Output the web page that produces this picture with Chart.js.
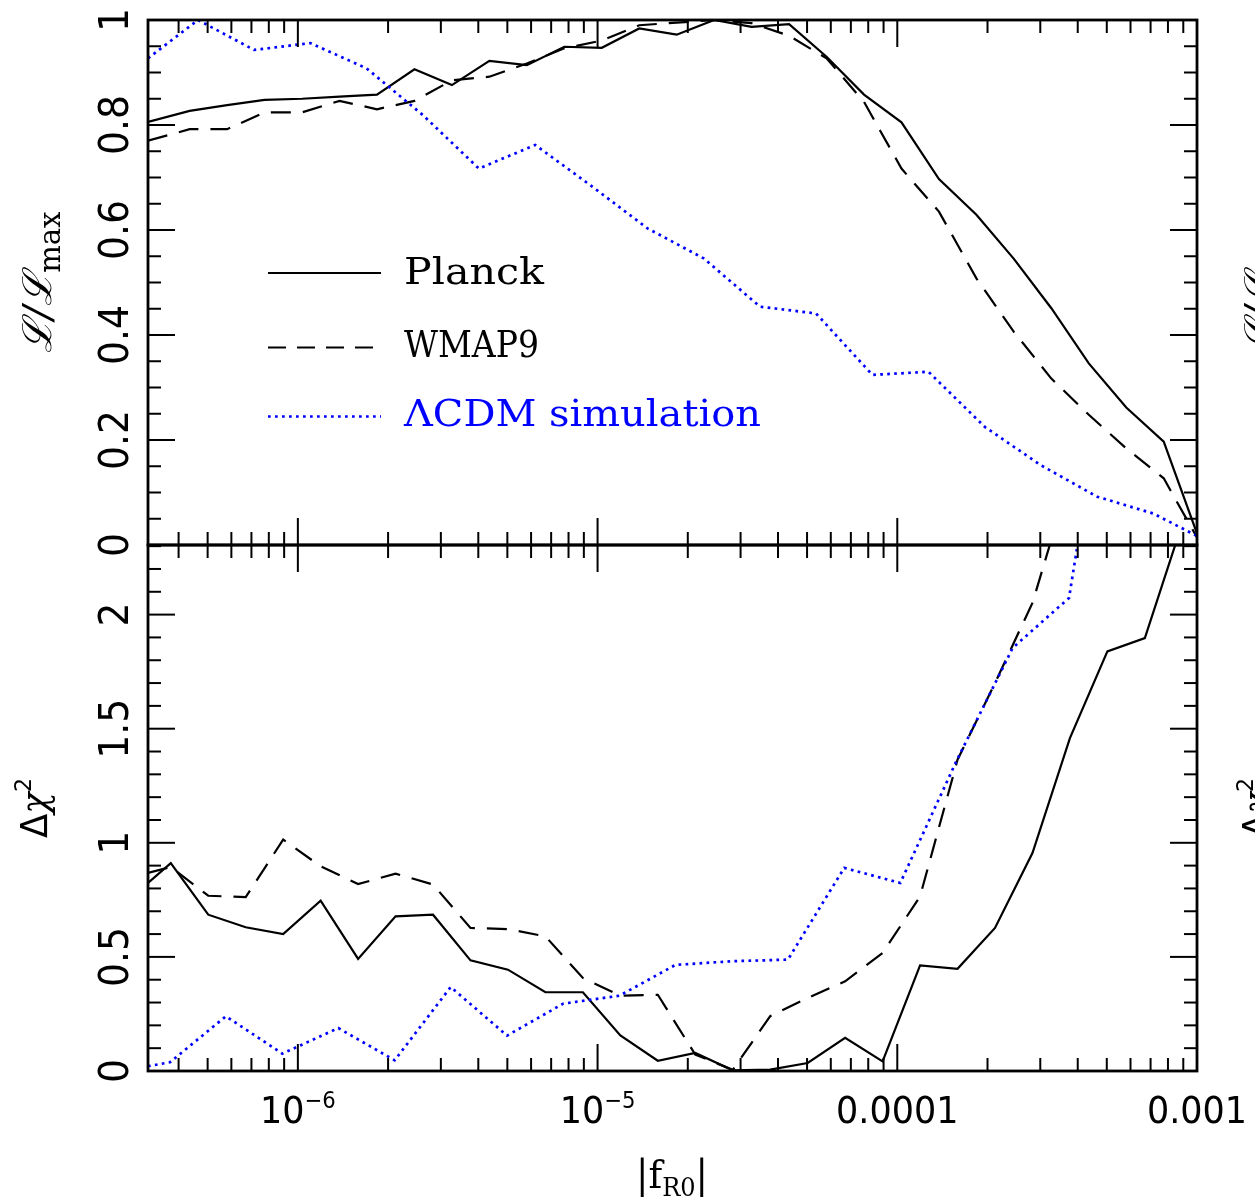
<!DOCTYPE html>
<html><head><meta charset="utf-8">
<script src="https://cdn.jsdelivr.net/npm/chart.js@4.4.1/dist/chart.umd.min.js"></script>
<style>
html,body{margin:0;padding:0;background:#fff;width:1255px;height:1201px;overflow:hidden;}
canvas{position:absolute;left:0;top:0;}
</style></head><body>
<canvas id="cBot" width="1255" height="1201"></canvas>
<canvas id="cTop" width="1255" height="1201"></canvas>
<script>
// ---------------- data (x given as log10 |f_R0|) ----------------
const xRangeLog = [-6.5, -3];

const likeLogF = [-6.5, -6.361, -6.236, -6.111, -5.986, -5.861, -5.736, -5.611, -5.486, -5.361,
  -5.236, -5.111, -4.986, -4.861, -4.736, -4.611, -4.486, -4.361, -4.236, -4.111,
  -3.986, -3.861, -3.736, -3.611, -3.486, -3.361, -3.236, -3.111, -2.986];
const likePlanck = [0.806, 0.827, 0.838, 0.848, 0.850, 0.854, 0.858, 0.906, 0.876, 0.922,
  0.914, 0.949, 0.947, 0.984, 0.972, 1.000, 0.987, 0.992, 0.930, 0.858,
  0.805, 0.697, 0.629, 0.545, 0.451, 0.346, 0.262, 0.197, 0.000];
const likeWMAP9 = [0.770, 0.792, 0.792, 0.824, 0.824, 0.846, 0.830, 0.846, 0.885, 0.892,
  0.917, 0.946, 0.961, 0.990, 0.995, 1.000, 0.994, 0.970, 0.927, 0.844,
  0.717, 0.635, 0.508, 0.406, 0.317, 0.248, 0.184, 0.127, 0.000];

const simLikeLogF = [-6.5, -6.333, -6.146, -5.958, -5.771, -5.583, -5.396, -5.208, -5.021, -4.833,
  -4.646, -4.458, -4.271, -4.083, -3.896, -3.708, -3.521, -3.333, -3.146, -2.958];
const simLike = [0.927, 1.000, 0.943, 0.956, 0.908, 0.819, 0.717, 0.762, 0.684, 0.603,
  0.546, 0.454, 0.441, 0.324, 0.330, 0.225, 0.152, 0.092, 0.060, 0.005];

const chiLogF = [-6.5, -6.424, -6.299, -6.174, -6.049, -5.924, -5.799, -5.674, -5.549, -5.424,
  -5.299, -5.174, -5.049, -4.924, -4.799, -4.674, -4.549, -4.424, -4.299, -4.174,
  -4.049, -3.924, -3.799, -3.674, -3.549, -3.424, -3.299, -3.174, -3.049];
const chiPlanck = [0.824, 0.911, 0.685, 0.630, 0.600, 0.746, 0.491, 0.678, 0.685, 0.485,
  0.444, 0.345, 0.345, 0.156, 0.045, 0.079, 0.003, 0.006, 0.035, 0.145,
  0.042, 0.463, 0.448, 0.627, 0.955, 1.459, 1.839, 1.897, 2.400];
const chiWMAP9 = [0.868, 0.894, 0.768, 0.762, 1.014, 0.897, 0.819, 0.865, 0.817, 0.627,
  0.622, 0.590, 0.408, 0.330, 0.334, 0.072, 0.005, 0.240, 0.320, 0.393,
  0.517, 0.765, 1.364, 1.700, 2.051, 2.600];

const simChiLogF = [-6.5, -6.427, -6.240, -6.052, -5.865, -5.677, -5.490, -5.302, -5.115, -4.927,
  -4.740, -4.552, -4.365, -4.177, -3.990, -3.802, -3.615, -3.427, -3.240];
const simChi = [0.021, 0.038, 0.240, 0.076, 0.188, 0.047, 0.368, 0.155, 0.295, 0.330,
  0.465, 0.481, 0.488, 0.890, 0.824, 1.360, 1.854, 2.073, 3.600];

const seriesNames = ['Planck', 'WMAP9', '\u039BCDM simulation'];
const likeTickValues = [0, 0.2, 0.4, 0.6, 0.8, 1];
const likeTickLabels = ['0', '0.2', '0.4', '0.6', '0.8', '1'];
const chiTickValues = [0, 0.5, 1, 1.5, 2];
const chiTickLabels = ['0', '0.5', '1', '1.5', '2'];
const xTickValues = [1e-6, 1e-5, 1e-4, 1e-3];
const xTickBase = ['10', '10', '0.0001', '0.001'];
const xTickExp = ['\u22126', '\u22125', '', ''];

// ---------------- styles ----------------
const BLUE = '#0000ff';
const styles = [
  {color: '#000', dash: [], width: 2.2},
  {color: '#000', dash: [20, 12], width: 2.2},
  {color: BLUE, dash: [2.7, 4.3], width: 2.7}
];
const SANS = '"DejaVu Sans", sans-serif';
const SERIF = '"DejaVu Serif", serif';

function pts(logs, vals) {
  const n = Math.min(logs.length, vals.length);
  const out = [];
  for (let i = 0; i < n; i++) out.push({x: Math.pow(10, logs[i]), y: vals[i]});
  return out;
}
function ds(label, data, s) {
  return {label, data, borderColor: s.color, borderWidth: s.width, borderDash: s.dash,
    borderCapStyle: 'butt', borderJoinStyle: 'miter', pointRadius: 0, tension: 0, fill: false};
}

function drawText(ctx, s, x, y, font, o = {}) {
  ctx.save();
  ctx.translate(x, y);
  if (o.rot) ctx.rotate(o.rot);
  ctx.font = font;
  const w = ctx.measureText(s).width;
  const sx = o.width ? o.width / w : (o.sx || 1);
  ctx.scale(sx, 1);
  ctx.fillStyle = o.color || '#000';
  ctx.textAlign = o.align || 'left';
  ctx.textBaseline = 'alphabetic';
  ctx.fillText(s, 0, 0);
  ctx.restore();
}
function drawComposite(ctx, parts, cx, cy, o = {}) {
  ctx.save();
  ctx.translate(cx, cy);
  if (o.rot) ctx.rotate(o.rot);
  const widths = parts.map(p => { ctx.font = p.font; return ctx.measureText(p.t).width + (p.gap || 0); });
  const total = widths.reduce((a, b) => a + b, 0);
  const sx = o.width ? o.width / total : (o.sx || 1);
  ctx.scale(sx, 1);
  ctx.fillStyle = o.color || '#000';
  ctx.textAlign = 'left';
  ctx.textBaseline = 'alphabetic';
  let xx = -total / 2;
  parts.forEach((p, i) => { ctx.font = p.font; ctx.fillText(p.t, xx, p.dy || 0); xx += widths[i]; });
  ctx.restore();
}

const MAJ = 27, MINL = 13;
function drawFrame(chart, minorStep, majorEvery, tickVals, tickLabels) {
  const {ctx, chartArea: a} = chart;
  const xs = chart.scales.x, ys = chart.scales.y;
  ctx.save();
  ctx.strokeStyle = '#000';
  ctx.lineWidth = 2;
  ctx.lineCap = 'butt';
  const seg = (x1, y1, x2, y2) => { ctx.beginPath(); ctx.moveTo(x1, y1); ctx.lineTo(x2, y2); ctx.stroke(); };
  for (let d = -7; d <= -3; d++) {
    for (let m = 1; m <= 9; m++) {
      const v = m * Math.pow(10, d);
      if (v < xs.min * 0.9999 || v > xs.max * 1.0001) continue;
      const px = xs.getPixelForValue(v);
      const L = m === 1 ? MAJ : MINL;
      seg(px, a.top, px, a.top + L);
      seg(px, a.bottom, px, a.bottom - L);
    }
  }
  for (let n = 0; ; n++) {
    const v = n * minorStep;
    if (v > ys.max + 1e-9) break;
    const py = ys.getPixelForValue(v);
    const L = n % majorEvery === 0 ? MAJ : MINL;
    seg(a.left, py, a.left + L, py);
    seg(a.right, py, a.right - L, py);
  }
  ctx.lineWidth = 2.8;
  ctx.strokeRect(a.left, a.top, a.right - a.left, a.bottom - a.top);
  ctx.restore();
  tickVals.forEach((v, i) => {
    drawText(ctx, tickLabels[i], a.left - 20, ys.getPixelForValue(v), '41px ' + SANS,
      {rot: -Math.PI / 2, align: 'center', sx: 0.92});
  });
}

function likeTitle(ctx, x) {
  drawComposite(ctx, [
    {t: '\u2112/\u2112', font: 'italic 40px ' + SERIF},
    {t: 'max', font: '29px ' + SERIF, dy: 9}
  ], x, 282, {rot: -Math.PI / 2, width: 141});
}
function chiTitle(ctx, x) {
  drawComposite(ctx, [
    {t: '\u0394', font: '37px ' + SANS},
    {t: '\u03C7', font: 'italic 37px ' + SERIF},
    {t: '2', font: '23px ' + SANS, dy: -16}
  ], x, 808, {rot: -Math.PI / 2, width: 60});
}

const topPlugin = {
  id: 'topDeco',
  afterDraw(chart) {
    const ctx = chart.ctx;
    drawFrame(chart, 0.05, 4, likeTickValues, likeTickLabels);
    likeTitle(ctx, 51);
    likeTitle(ctx, 51 + 1222);
    // legend
    const rows = [{y: 273, ty: 284}, {y: 347.5, ty: 357}, {y: 416.5, ty: 426}];
    const tw = [140, 135, 357];
    rows.forEach((r, i) => {
      const s = styles[i];
      ctx.save();
      ctx.strokeStyle = s.color; ctx.lineWidth = s.width;
      ctx.setLineDash(i === 1 ? [18, 11] : s.dash); ctx.lineCap = 'butt';
      ctx.beginPath(); ctx.moveTo(268, r.y); ctx.lineTo(381, r.y); ctx.stroke();
      ctx.restore();
      drawText(ctx, seriesNames[i], 404, r.ty, '37px ' + SERIF, {width: tw[i], color: s.color});
    });
  }
};

const botPlugin = {
  id: 'botDeco',
  afterDraw(chart) {
    const ctx = chart.ctx;
    const a = chart.chartArea, xs = chart.scales.x;
    drawFrame(chart, 0.1, 5, chiTickValues, chiTickLabels);
    chiTitle(ctx, 47);
    chiTitle(ctx, 47 + 1222);
    xTickValues.forEach((v, i) => {
      const px = xs.getPixelForValue(v);
      const parts = [{t: xTickBase[i], font: '38px ' + SANS}];
      if (xTickExp[i]) parts.push({t: xTickExp[i], font: '23px ' + SANS, dy: -15, gap: 0});
      drawComposite(ctx, parts, px, a.bottom + 52, {sx: 0.92});
    });
    drawComposite(ctx, [
      {t: '|', font: '40px ' + SERIF},
      {t: 'f', font: '40px ' + SERIF},
      {t: 'R0', font: '26px ' + SERIF, dy: 8},
      {t: '|', font: '40px ' + SERIF}
    ], 672, 1188, {width: 72});
  }
};

function makeChart(id, datasets, yMax, padding, plugin) {
  return new Chart(document.getElementById(id), {
    type: 'line',
    data: {datasets},
    options: {
      responsive: false, animation: false, devicePixelRatio: 1,
      layout: {padding},
      plugins: {legend: {display: false}, tooltip: {enabled: false}},
      scales: {
        x: {type: 'logarithmic', min: Math.pow(10, xRangeLog[0]), max: Math.pow(10, xRangeLog[1]), display: false},
        y: {type: 'linear', min: 0, max: yMax, display: false}
      }
    },
    plugins: [plugin]
  });
}

makeChart('cTop', [
  ds(seriesNames[2], pts(simLikeLogF, simLike), styles[2]),
  ds(seriesNames[1], pts(likeLogF, likeWMAP9), styles[1]),
  ds(seriesNames[0], pts(likeLogF, likePlanck), styles[0])
], 1, {left: 148, right: 58, top: 20, bottom: 656}, topPlugin);

makeChart('cBot', [
  ds(seriesNames[2], pts(simChiLogF, simChi), styles[2]),
  ds(seriesNames[1], pts(chiLogF, chiWMAP9), styles[1]),
  ds(seriesNames[0], pts(chiLogF, chiPlanck), styles[0])
], 2.305, {left: 148, right: 58, top: 545, bottom: 130}, botPlugin);
</script>
</body></html>
